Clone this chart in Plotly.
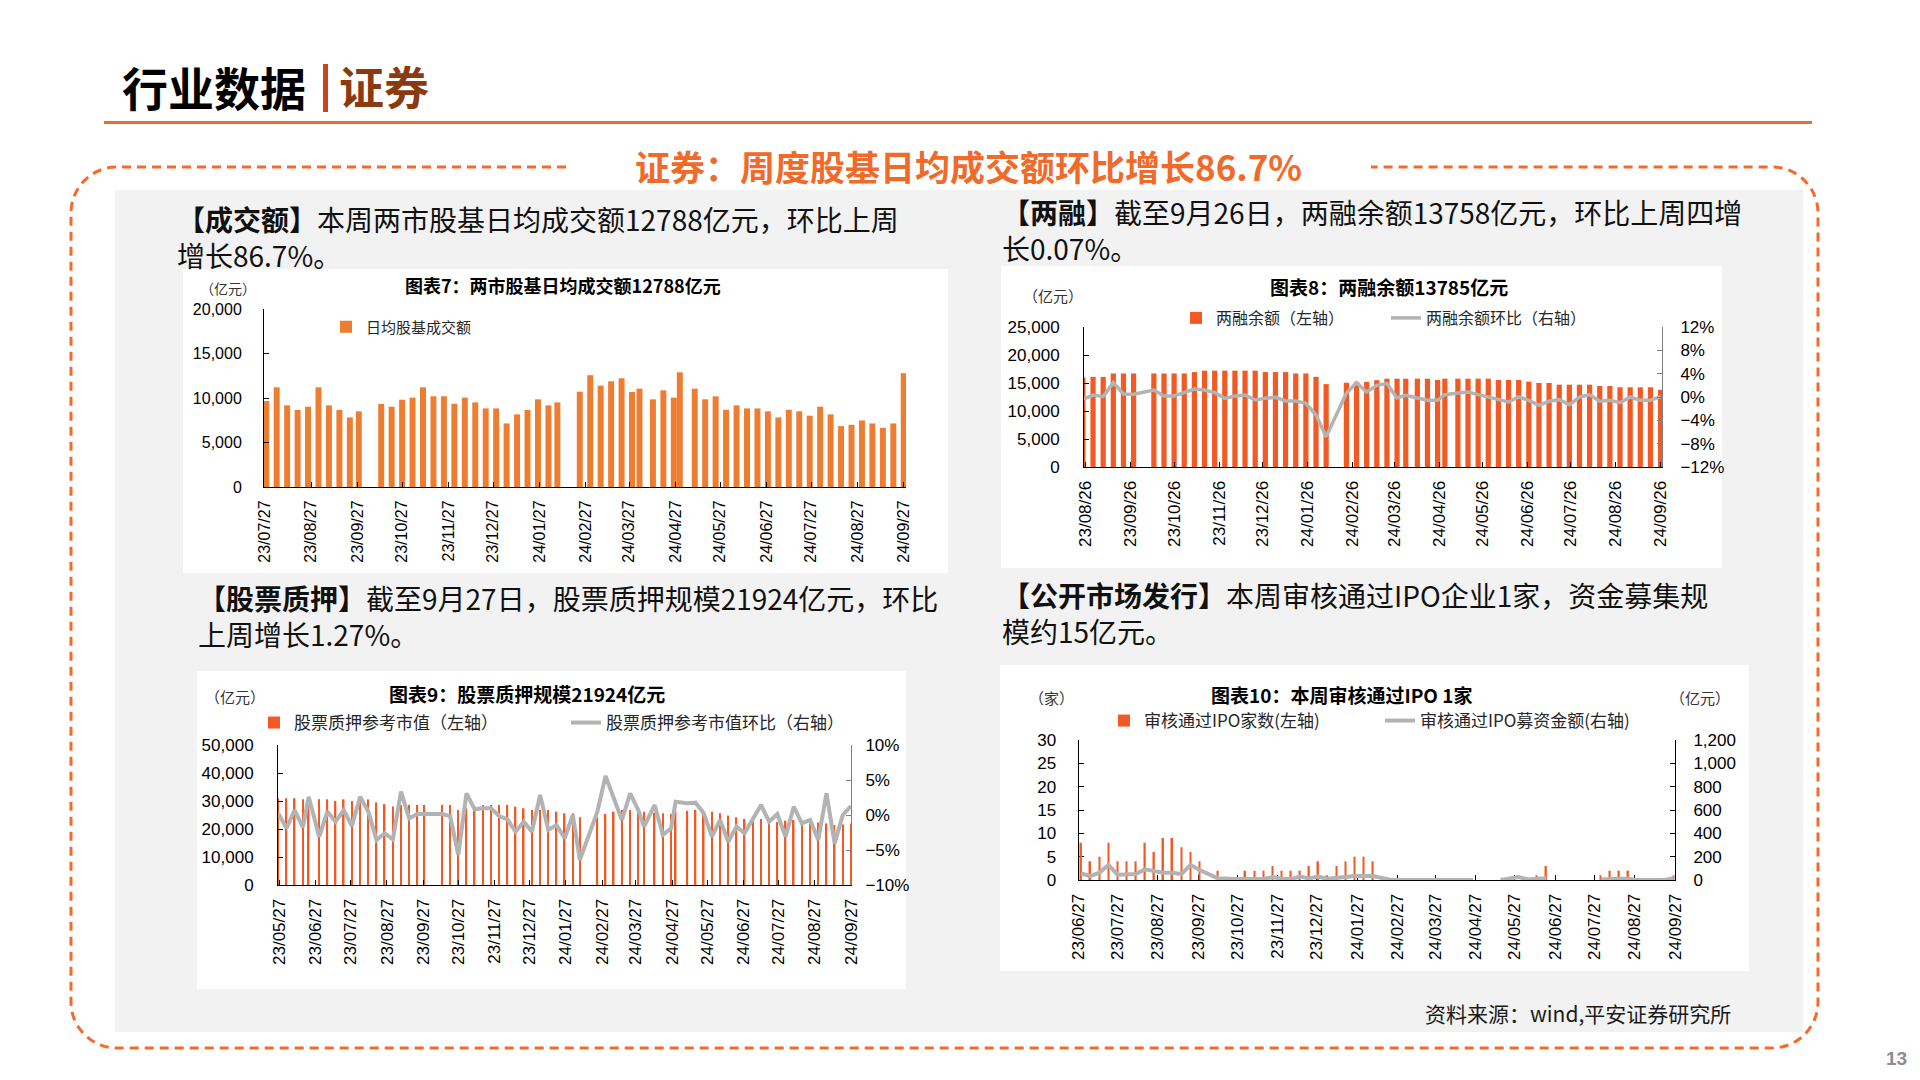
import plotly.graph_objects as go

W, H = 1920, 1080
def px(x): return x / W
def py(y): return 1 - y / H
DAY = 86400000

CJK = "Noto Sans CJK SC"
NUM = "Liberation Sans, Noto Sans CJK SC"

# ---------------- 图表7：两市股基日均成交额 ----------------
c7_dates = ["2023-07-28", "2023-08-04", "2023-08-11", "2023-08-18", "2023-08-25", "2023-09-01", "2023-09-08",
            "2023-09-15", "2023-09-22", "2023-09-28",
            "2023-10-13", "2023-10-20", "2023-10-27", "2023-11-03", "2023-11-10", "2023-11-17", "2023-11-24",
            "2023-12-01", "2023-12-08", "2023-12-15", "2023-12-22", "2023-12-29", "2024-01-05", "2024-01-12",
            "2024-01-19", "2024-01-26", "2024-02-02", "2024-02-08",
            "2024-02-23", "2024-03-01", "2024-03-08", "2024-03-15", "2024-03-22", "2024-03-29", "2024-04-03",
            "2024-04-12", "2024-04-19", "2024-04-26", "2024-04-30", "2024-05-10", "2024-05-17", "2024-05-24",
            "2024-05-31", "2024-06-07", "2024-06-14", "2024-06-21", "2024-06-28", "2024-07-05", "2024-07-12",
            "2024-07-19", "2024-07-26", "2024-08-02", "2024-08-09", "2024-08-16", "2024-08-23", "2024-08-30",
            "2024-09-06", "2024-09-13", "2024-09-20", "2024-09-27"]
c7_turnover = [9660, 11200, 9170, 8650, 9020, 11200, 9170, 8650, 7820, 8500,
               9320, 9020, 9810, 10040, 11200, 10190, 10190, 9360, 10040, 9510, 8830, 8830, 7140, 8160,
               8650, 9850, 9170, 9510,
               10710, 12560, 11390, 11880, 12220, 10680, 11050, 9850, 10860, 10040, 12890, 11050, 9850, 10190,
               8680, 9170, 8830, 8830, 8500, 7820, 8680, 8500, 8010, 9020, 8160, 6840, 6990, 7480, 7140, 6650,
               7140, 12788]
c7_ticks = ["23/07/27", "23/08/27", "23/09/27", "23/10/27", "23/11/27", "23/12/27", "24/01/27", "24/02/27",
            "24/03/27", "24/04/27", "24/05/27", "24/06/27", "24/07/27", "24/08/27", "24/09/27"]

# ---------------- 图表8：两融余额 ----------------
c8_dates = ["2023-08-24", "2023-08-31", "2023-09-07", "2023-09-14", "2023-09-21", "2023-09-28",
            "2023-10-12", "2023-10-19", "2023-10-26", "2023-11-02", "2023-11-09", "2023-11-16", "2023-11-23",
            "2023-11-30", "2023-12-07", "2023-12-14", "2023-12-21", "2023-12-28", "2024-01-04", "2024-01-11",
            "2024-01-18", "2024-01-25", "2024-02-01", "2024-02-08",
            "2024-02-22", "2024-02-29", "2024-03-07", "2024-03-14", "2024-03-21", "2024-03-28", "2024-04-03",
            "2024-04-11", "2024-04-18", "2024-04-25", "2024-04-30", "2024-05-09", "2024-05-16", "2024-05-23",
            "2024-05-30", "2024-06-06", "2024-06-13", "2024-06-20", "2024-06-27", "2024-07-04", "2024-07-11",
            "2024-07-18", "2024-07-25", "2024-08-01", "2024-08-08", "2024-08-15", "2024-08-22", "2024-08-29",
            "2024-09-05", "2024-09-12", "2024-09-19", "2024-09-26"]
c8_balance = [16000, 16100, 16100, 16700, 16700, 16700,
              16700, 16700, 16700, 16700, 16950, 17200, 17200, 17200, 17200, 17200, 17200, 16950, 16950,
              16950, 16700, 16700, 16100, 14800,
              15050, 15200, 15200, 15500, 15770, 15770, 15770, 15770, 15770, 15540, 15770, 15770, 15770,
              15770, 15770, 15540, 15540, 15540, 15240, 15000, 15000, 14700, 14700, 14700, 14700, 14460,
              14460, 14230, 14230, 14230, 14230, 13785]
c8_change = [-0.40, 0.34, 0.06, 2.46, 0.51, 0.46,
             1.20, 0.17, 0.17, 0.74, 1.37, 1.20, 0.74, -0.23, 0.17, 0.34, -0.51, -0.23, -0.06, -0.69,
             -0.69, -1.09, -3.09, -6.80,
             0.63, 2.46, 0.86, 2.00, 2.29, -0.17, 0.29, -0.17, -0.57, -0.57, 0.40, 0.69, 0.86, 0.40,
             0.00, -0.46, -0.86, 0.00, -0.57, -1.43, -0.74, -0.46, -1.31, 0.00, 0.40, -0.74, -0.57,
             -0.97, 0.00, -0.57, -0.57, 0.07]
c8_ticks = ["23/08/26", "23/09/26", "23/10/26", "23/11/26", "23/12/26", "24/01/26", "24/02/26", "24/03/26",
            "24/04/26", "24/05/26", "24/06/26", "24/07/26", "24/08/26", "24/09/26"]

# ---------------- 图表9：股票质押规模 ----------------
c9_dates = ["2023-05-26", "2023-06-02", "2023-06-09", "2023-06-16", "2023-06-21", "2023-06-30", "2023-07-07",
            "2023-07-14", "2023-07-21", "2023-07-28", "2023-08-04", "2023-08-11", "2023-08-18", "2023-08-25",
            "2023-09-01", "2023-09-08", "2023-09-15", "2023-09-22", "2023-09-28",
            "2023-10-13", "2023-10-20", "2023-10-27", "2023-11-03", "2023-11-10", "2023-11-17", "2023-11-24",
            "2023-12-01", "2023-12-08", "2023-12-15", "2023-12-22", "2023-12-29", "2024-01-05", "2024-01-12",
            "2024-01-19", "2024-01-26", "2024-02-02", "2024-02-08",
            "2024-02-23", "2024-03-01", "2024-03-08", "2024-03-15", "2024-03-22", "2024-03-29", "2024-04-03",
            "2024-04-12", "2024-04-19", "2024-04-26", "2024-04-30", "2024-05-10", "2024-05-17", "2024-05-24",
            "2024-05-31", "2024-06-07", "2024-06-14", "2024-06-21", "2024-06-28", "2024-07-05", "2024-07-12",
            "2024-07-19", "2024-07-26", "2024-08-02", "2024-08-09", "2024-08-16", "2024-08-23", "2024-08-30",
            "2024-09-06", "2024-09-13", "2024-09-20", "2024-09-27"]
c9_pledge = [31000, 31000, 31000, 30600, 31000, 30600, 30600, 30000, 30600, 30000, 30900, 30600, 29500,
             28900, 28000, 28600, 28600, 28600, 28600,
             28600, 28600, 26800, 27400, 28000, 28600, 28600, 28600, 28600, 28000, 27400, 26800, 26800,
             26800, 26200, 25600, 25600, 24200,
             24200, 25400, 26200, 26800, 26800, 26200, 26200, 25800, 25600, 25400, 26200, 26500, 26800,
             26200, 26200, 25600, 24800, 24200, 23600, 23600, 23600, 23000, 22500, 23000, 23200, 22500,
             22000, 22300, 22000, 21400, 21650, 21924]
c9_change = [0.24, -1.90, 0.71, -1.76, 2.60, -3.10, 0.48, -0.95, 0.71, -1.57, 2.60, 0.48, -3.57, -2.60,
             -3.50, 3.33, -0.48, 0.14, 0.14,
             0.14, -0.14, -5.70, 3.10, 0.81, 0.95, 0.95, -0.14, -0.62, -2.38, -0.95, -2.38, 2.86, -2.14,
             -1.43, -3.33, 0.00, -6.43,
             0.48, 5.57, 2.62, -0.71, 3.10, 0.71, -1.67, 1.43, -2.86, -1.90, 1.90, 1.67, 1.76, 0.24,
             -3.10, -0.71, -3.81, -1.67, -2.62, -0.48, 1.43, -0.95, 0.14, -3.10, 1.19, -1.19, -0.71,
             -3.57, 3.10, -4.05, 0.00, 1.27]
c9_ticks = ["23/05/27", "23/06/27", "23/07/27", "23/08/27", "23/09/27", "23/10/27", "23/11/27", "23/12/27",
            "24/01/27", "24/02/27", "24/03/27", "24/04/27", "24/05/27", "24/06/27", "24/07/27", "24/08/27",
            "24/09/27"]

# ---------------- 图表10：审核通过IPO ----------------
c10_dates = ["2023-06-29", "2023-07-06", "2023-07-13", "2023-07-20", "2023-07-27", "2023-08-03", "2023-08-10",
             "2023-08-17", "2023-08-24", "2023-08-31", "2023-09-07", "2023-09-14", "2023-09-21", "2023-09-28",
             "2023-10-12", "2023-10-19", "2023-10-26", "2023-11-02", "2023-11-09", "2023-11-16", "2023-11-23",
             "2023-11-30", "2023-12-07", "2023-12-14", "2023-12-21", "2023-12-28",
             "2024-01-04", "2024-01-11", "2024-01-18", "2024-01-25", "2024-02-01", "2024-02-08",
             "2024-02-22", "2024-02-29", "2024-03-07", "2024-03-14", "2024-03-21", "2024-03-28", "2024-04-04",
             "2024-04-11", "2024-04-18", "2024-04-25",
             "2024-05-02", "2024-05-09", "2024-05-16", "2024-05-23", "2024-05-30", "2024-06-06", "2024-06-13",
             "2024-06-20",
             "2024-06-27", "2024-07-04", "2024-07-11", "2024-07-18", "2024-07-25",
             "2024-08-01", "2024-08-08", "2024-08-15", "2024-08-22", "2024-08-29", "2024-09-05", "2024-09-12",
             "2024-09-19", "2024-09-26"]
c10_count = [8, 4, 5, 8, 4, 4, 4, 8, 6, 9, 9, 7, 6, 4,
             2, 0, 0, 2, 2, 2, 3, 2, 2, 2, 3, 4,
             1, 3, 4, 5, 5, 4,
             0, 0, 0, 0, 0, 0, 0, 0, 0, 0,
             None, None, 0, 0, 0, 0, 1, 3,
             None, None, None, None, None,
             1, 2, 2, 2, 0, 0, 0, 0, 1]
c10_amount = [57, 34, 63, 129, 46, 51, 51, 91, 80, 63, 63, 51, 129, 86,
              14, 8, 8, 8, 8, 8, 25, 8, 8, 29, 14, 29,
              10, 15, 25, 34, 34, 34,
              0, 0, 0, 0, 0, 0, 0, 0, 0, 0,
              None, None, 0, 10, 25, 5, 10, 15,
              None, None, None, None, None,
              5, 10, 10, 10, 0, 0, 0, 0, 15]
c10_ticks = ["23/06/27", "23/07/27", "23/08/27", "23/09/27", "23/10/27", "23/11/27", "23/12/27", "24/01/27",
             "24/02/27", "24/03/27", "24/04/27", "24/05/27", "24/06/27", "24/07/27", "24/08/27", "24/09/27"]


def tickdates(labels):
    return ["20" + s.replace("/", "-") for s in labels]


ORANGE7 = "#ED7D31"
RED = "#F15A24"
GRAY = "#B3B3B3"

fig = go.Figure()

fig.add_trace(go.Bar(x=c7_dates, y=c7_turnover, xaxis="x", yaxis="y", width=4 * DAY, showlegend=True,
                     marker=dict(color=ORANGE7, line=dict(width=0)), name="日均股基成交额", legend="legend"))

fig.add_trace(go.Bar(x=c8_dates, y=c8_balance, xaxis="x2", yaxis="y2", width=3.6 * DAY, showlegend=True,
                     marker=dict(color=RED, line=dict(width=0)), name="两融余额（左轴）", legend="legend2"))
fig.add_trace(go.Scatter(x=c8_dates, y=c8_change, xaxis="x2", yaxis="y3", mode="lines", showlegend=True,
                         line=dict(color=GRAY, width=3.5), name="两融余额环比（右轴）", legend="legend3"))

fig.add_trace(go.Bar(x=c9_dates, y=c9_pledge, xaxis="x3", yaxis="y4", width=1.3 * DAY, showlegend=True,
                     marker=dict(color=RED, line=dict(width=0)), name="股票质押参考市值（左轴）", legend="legend4"))
fig.add_trace(go.Scatter(x=c9_dates, y=c9_change, xaxis="x3", yaxis="y5", mode="lines", showlegend=True,
                         line=dict(color=GRAY, width=4), name="股票质押参考市值环比（右轴）", legend="legend5"))

fig.add_trace(go.Bar(x=c10_dates, y=c10_count, xaxis="x4", yaxis="y6", width=1.2 * DAY, showlegend=True,
                     marker=dict(color=RED, line=dict(width=0)), name="审核通过IPO家数(左轴)", legend="legend6"))
fig.add_trace(go.Scatter(x=c10_dates, y=c10_amount, xaxis="x4", yaxis="y7", mode="lines", connectgaps=False,
                         showlegend=True,
                         line=dict(color=GRAY, width=4), name="审核通过IPO募资金额(右轴)", legend="legend7"))


def xdate(x0, x1, anchor, rng, labels, fs, layer="above traces"):
    return dict(domain=[px(x0), px(x1)], anchor=anchor, type="date", range=rng, automargin=False,
                tickmode="array", tickvals=tickdates(labels), ticktext=labels, tickangle=-90,
                ticks="inside", ticklen=5, tickcolor="black", tickwidth=1,
                showline=True, linecolor="black", linewidth=1, showgrid=False, zeroline=False,
                tickfont=dict(family=NUM, size=fs, color="black"), ticklabelstandoff=6, layer=layer)


def yleft(y0, y1, anchor, rng, dtick, fs, standoff, fmt=",", layer="above traces"):
    return dict(domain=[py(y1), py(y0)], anchor=anchor, range=rng, dtick=dtick, tick0=0, tickformat=fmt,
                ticks="inside", ticklen=5, tickcolor="black", showline=True, linecolor="black", linewidth=1,
                showgrid=False, zeroline=False, tickfont=dict(family=NUM, size=fs, color="black"),
                ticklabelstandoff=standoff, layer=layer, automargin=False)


def yright(over, anchor, rng, dtick, fs, standoff, color, suffix="", fmt=""):
    return dict(overlaying=over, anchor=anchor, side="right", range=rng, dtick=dtick, tick0=0,
                ticksuffix=suffix, tickformat=fmt, ticks="inside", ticklen=5, tickcolor=color,
                showline=True, linecolor=color, linewidth=1, showgrid=False, zeroline=False,
                tickfont=dict(family=NUM, size=fs, color="black"), ticklabelstandoff=standoff, automargin=False)


layout_axes = dict(
    xaxis=xdate(264, 906, "y", ["2023-07-26 12:00", "2024-09-28 12:00"], c7_ticks, 16),
    yaxis=yleft(309, 487, "x", [0, 20000], 5000, 16, 18),
    xaxis2=xdate(1084, 1662, "y2", ["2023-08-24 18:00", "2024-09-27"], c8_ticks, 17),
    yaxis2=yleft(327, 467, "x2", [0, 25000], 5000, 17, 20),
    yaxis3=yright("y2", "x2", [-12, 12], 4, 17, 14, "#808080", suffix="%"),
    xaxis3=xdate(278, 851, "y4", ["2023-05-25 18:00", "2024-09-27"], c9_ticks, 17),
    yaxis4=yleft(745, 885, "x3", [0, 50000], 10000, 17, 20),
    yaxis5=yright("y4", "x3", [-10, 10], 5, 17, 10, "#808080", suffix="%"),
    xaxis4=xdate(1078.5, 1675, "y6", ["2023-06-27", "2024-09-27"], c10_ticks, 17, layer="below traces"),
    yaxis6=yleft(740, 880, "x4", [0, 30], 5, 17, 18, fmt="d", layer="below traces"),
    yaxis7=yright("y6", "x4", [0, 1200], 200, 17, 14, "black", fmt=","),
)


def leg(x, y, fs=16):
    return dict(x=px(x), y=py(y), xanchor="left", yanchor="middle", orientation="h", visible=True,
                bgcolor="rgba(0,0,0,0)", borderwidth=0, itemwidth=30,
                font=dict(family=CJK, size=fs, color="#262626"))


shapes = []
# grey panel
shapes.append(dict(type="rect", xref="paper", yref="paper", x0=px(115), x1=px(1803), y0=py(1032), y1=py(190),
                   fillcolor="#F2F2F2", line=dict(width=0), layer="below"))
# white chart boxes
for (a, b, c, d) in [(183, 269, 948, 573), (1001, 266, 1722, 568), (197, 671, 906, 989), (1000, 665, 1749, 971)]:
    shapes.append(dict(type="rect", xref="paper", yref="paper", x0=px(a), x1=px(c), y0=py(d), y1=py(b),
                       fillcolor="white", line=dict(width=0), layer="below"))

# dashed rounded frame with a gap for the headline
L, R, T, B, r, k = 71, 1818, 167, 1048, 46, 0.5523
xl, xr = 566, 1371
def P(x, y): return f"{px(x):.6f},{py(y):.6f}"
path = (f"M{P(xl, T)} L{P(L + r, T)} C{P(L + r - k * r, T)} {P(L, T + r - k * r)} {P(L, T + r)} "
        f"L{P(L, B - r)} C{P(L, B - r + k * r)} {P(L + r - k * r, B)} {P(L + r, B)} "
        f"L{P(R - r, B)} C{P(R - r + k * r, B)} {P(R, B - r + k * r)} {P(R, B - r)} "
        f"L{P(R, T + r)} C{P(R, T + r - k * r)} {P(R - r + k * r, T)} {P(R - r, T)} L{P(xr, T)}")
shapes.append(dict(type="path", xref="paper", yref="paper", path=path,
                   line=dict(color="#F26A2C", width=3, dash="9px,6px"), layer="below"))
# header rule and divider
shapes.append(dict(type="line", xref="paper", yref="paper", x0=px(104), x1=px(1812), y0=py(122.5), y1=py(122.5),
                   line=dict(color="#EE6A30", width=3)))
shapes.append(dict(type="rect", xref="paper", yref="paper", x0=px(323), x1=px(328), y0=py(112), y1=py(64),
                   fillcolor="#C8461A", line=dict(width=0)))

ann = []
def text(x, y, s, size, color="#111111", xanchor="left", family=CJK, weight=None, align="left"):
    f = dict(family=family, size=size, color=color)
    if weight:
        f["weight"] = weight
    ann.append(dict(xref="paper", yref="paper", x=px(x), y=py(y), text=s, showarrow=False, align=align,
                    xanchor=xanchor, yanchor="middle", font=f))

text(120, 86, "行业数据", 46, "#000000", weight="bold")
text(337, 86, "证券", 45, "#8B3A0F", weight="bold")
text(969, 166, "证券：周度股基日均成交额环比增长86.7%", 35, "#F06A2A", xanchor="center", weight="bold")

text(175, 237, "<b>【成交额】</b>本周两市股基日均成交额12788亿元，环比上周<br>增长86.7%。", 28)
text(1000, 230, "<b>【两融】</b>截至9月26日，两融余额13758亿元，环比上周四增<br>长0.07%。", 28)
text(196, 616, "<b>【股票质押】</b>截至9月27日，股票质押规模21924亿元，环比<br>上周增长1.27%。", 28)
text(1000, 613, "<b>【公开市场发行】</b>本周审核通过IPO企业1家，资金募集规<br>模约15亿元。", 28)

text(563, 285, "<b>图表7：两市股基日均成交额12788亿元</b>", 18, "#000000", xanchor="center")
text(1389, 286, "<b>图表8：两融余额13785亿元</b>", 19, "#000000", xanchor="center")
text(527, 693, "<b>图表9：股票质押规模21924亿元</b>", 19, "#000000", xanchor="center")
text(1342, 694, "<b>图表10：本周审核通过IPO 1家</b>", 19, "#000000", xanchor="center")

text(228, 288, "（亿元）", 14, "#333333", xanchor="center")
text(1053, 295, "（亿元）", 15, "#333333", xanchor="center")
text(235, 696, "（亿元）", 15, "#333333", xanchor="center")
text(1051, 697, "（家）", 15, "#333333", xanchor="center")
text(1700, 697, "（亿元）", 15, "#333333", xanchor="center")

text(1733, 1013, "资料来源：wind,平安证券研究所", 21, "#1A1A1A", xanchor="right")
text(1896, 1058, "<b>13</b>", 19, "#8C8C8C", xanchor="center", family=NUM)

fig.update_layout(
    width=W, height=H, autosize=False,
    margin=dict(l=0, r=0, t=0, b=0, pad=0, autoexpand=False),
    paper_bgcolor="white", plot_bgcolor="rgba(0,0,0,0)",
    font=dict(family=NUM, color="black"),
    showlegend=True,
    shapes=shapes, annotations=ann,
    legend=leg(326, 327, 15),
    legend2=leg(1176, 318),
    legend3=leg(1386, 318),
    legend4=leg(254, 723, 17),
    legend5=leg(566, 723, 17),
    legend6=leg(1104, 721, 17),
    legend7=leg(1380, 721, 17),
    **layout_axes,
)

POST = ("document.body.style.margin='0';document.body.style.padding='0';"
        "document.body.style.overflow='hidden';document.documentElement.style.overflow='hidden';"
        "var gd=document.getElementById('{plot_id}');gd.style.position='fixed';gd.style.left='0px';"
        "gd.style.top='0px';")

fig.write_html("out.html", config={"displayModeBar": False}, post_script=POST)
